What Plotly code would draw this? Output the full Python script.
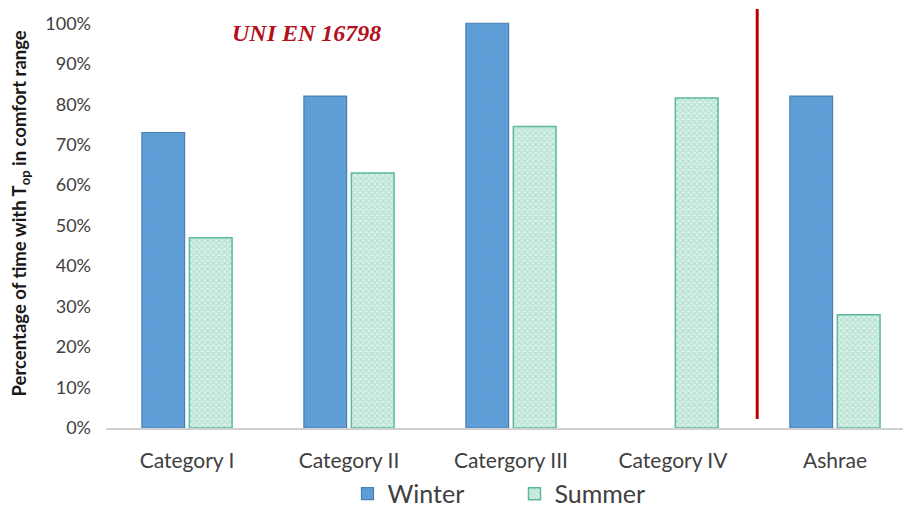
import plotly.graph_objects as go

categories = ["Category I", "Category II", "Catergory III", "Category IV", "Ashrae"]
winter = [0.73, 0.82, 1.00, None, 0.82]
summer = [0.47, 0.63, 0.745, 0.815, 0.28]
y_ticks = [0, 0.1, 0.2, 0.3, 0.4, 0.5, 0.6, 0.7, 0.8, 0.9, 1.0]
y_tick_labels = ["0%", "10%", "20%", "30%", "40%", "50%", "60%", "70%", "80%", "90%", "100%"]

FONT = "Lato"

fig = go.Figure()
fig.add_trace(go.Bar(
    name="Winter", x=categories, y=winter,
    marker=dict(color="#5b9bd5", line=dict(color="#4a7fb0", width=1.2),
                pattern=dict(shape=".", fgcolor="#6ea9dd", bgcolor="#5b9bd5", size=3, solidity=0.3)),
))
fig.add_trace(go.Bar(
    name="Summer", x=categories, y=summer,
    marker=dict(color="#c2e8da", line=dict(color="#5ab9a0", width=1.5),
                pattern=dict(shape="x", fgcolor="#8ccfb8", bgcolor="#dcf2ea", size=4, solidity=0.55)),
))

# vertical separator between the EN 16798 categories and ASHRAE
fig.add_shape(type="line", xref="x", yref="y", x0=3.52, x1=3.52, y0=0.022, y1=1.035,
              line=dict(color="#c00000", width=3))

fig.add_annotation(text="<b><i>UNI EN 16798</i></b>", xref="x", yref="y", x=0.74, y=0.975,
                   showarrow=False, font=dict(family="Liberation Serif", size=24, color="#b3101c"))

fig.add_annotation(text="<b>Percentage of time with T<sub>op</sub> in comfort range</b>",
                   xref="paper", yref="paper", x=-0.126, y=0.505, textangle=-90,
                   showarrow=False, font=dict(family=FONT, size=18.5, color="#1a1a1a"))

fig.update_layout(
    width=903, height=508,
    margin=dict(l=106, r=0, t=3, b=80, autoexpand=False),
    paper_bgcolor="white", plot_bgcolor="white",
    barmode="group", bargap=0.414, bargroupgap=0.1,
    font=dict(family=FONT, color="#404040"),
    showlegend=True,
    legend=dict(orientation="h", x=0.303, xanchor="left", y=-0.155, yanchor="middle",
                bgcolor="rgba(0,0,0,0)", entrywidth=122, entrywidthmode="pixels",
                font=dict(family=FONT, size=25, color="#404040"), itemwidth=30,
                traceorder="normal"),
    xaxis=dict(range=[-0.5, 4.42], showgrid=False, showline=True, linecolor="#d0d0d0",
               linewidth=1.5, ticks="", tickfont=dict(family=FONT, size=21, color="#404040"),
               ticklabelstandoff=13, zeroline=False, automargin=False),
    yaxis=dict(range=[0, 1.05], tickvals=y_ticks, ticktext=y_tick_labels, showgrid=False,
               showline=False, zeroline=False, ticks="", automargin=False,
               tickfont=dict(family=FONT, size=18, color="#404040"), ticklabelstandoff=14),
)

fig.write_html("out.html")
